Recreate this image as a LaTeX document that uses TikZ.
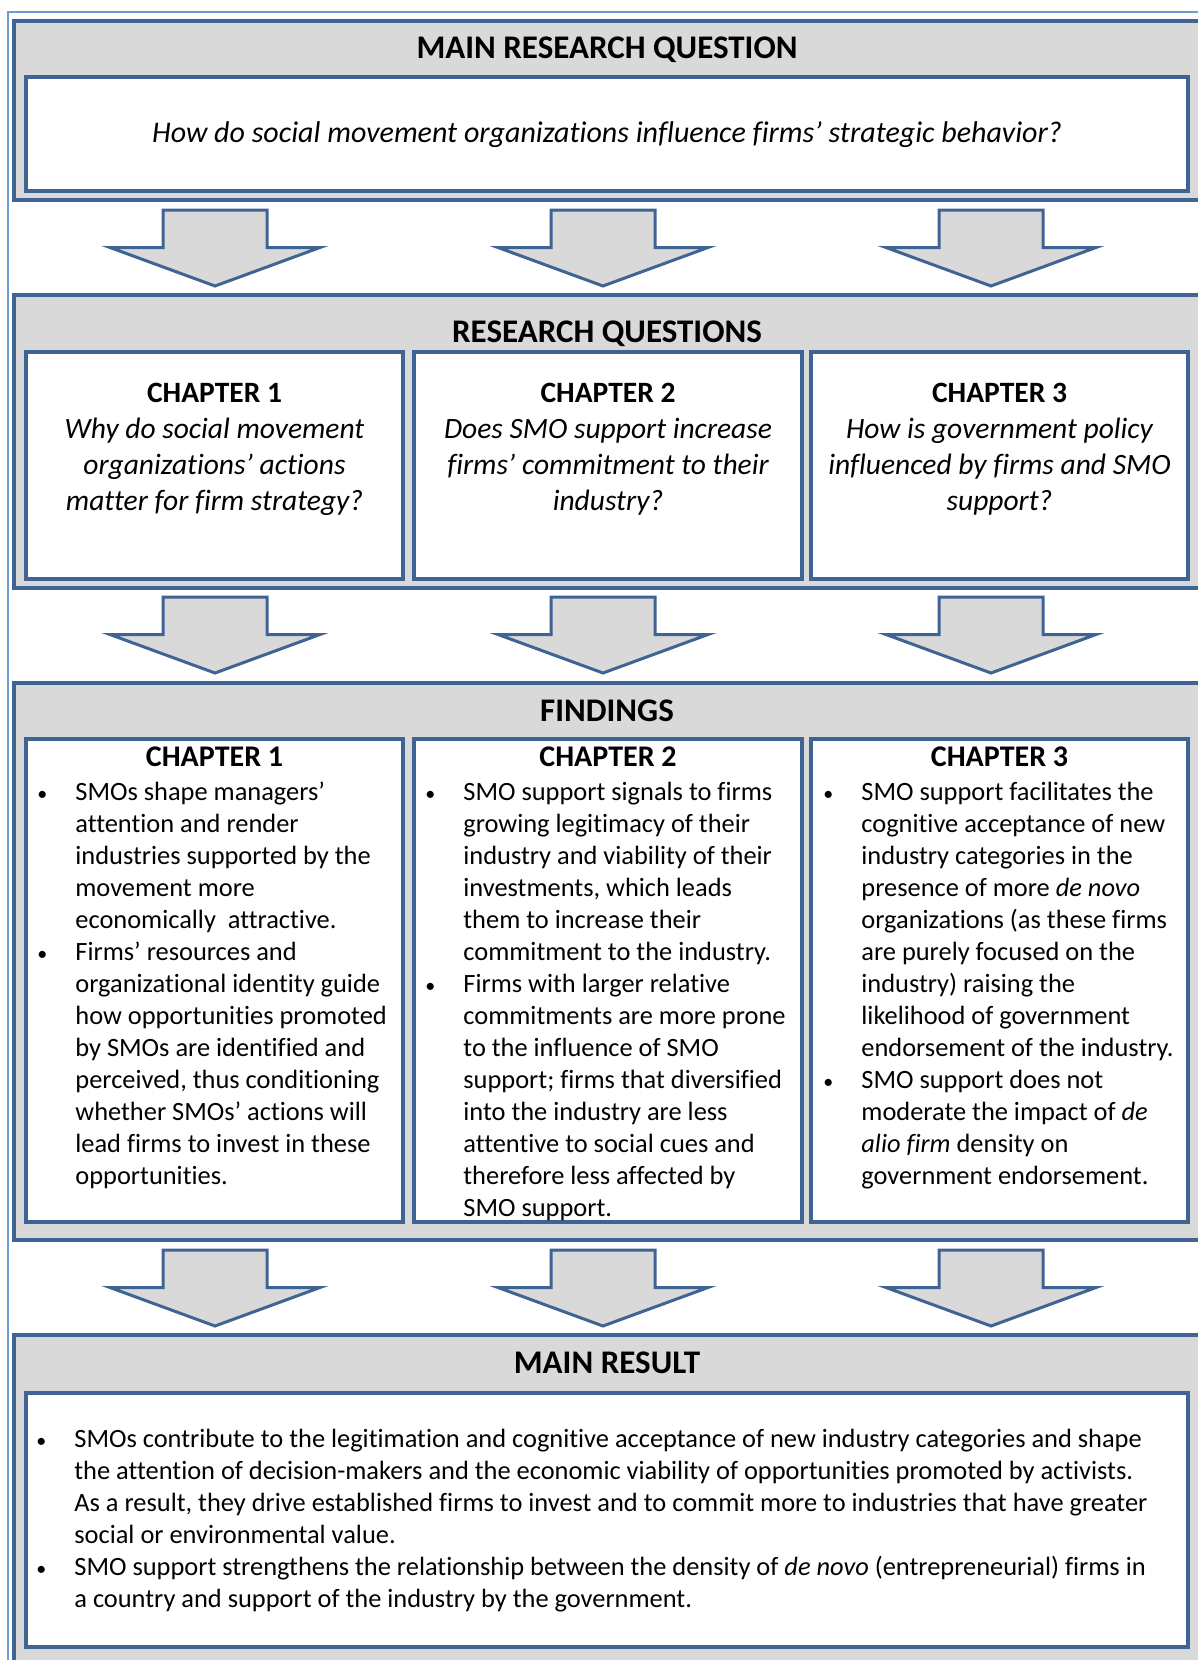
\documentclass[tikz,border=0pt]{standalone}
\usepackage{fontspec}
\setmainfont[Ligatures=NoCommon]{Carlito}
\definecolor{bdr}{HTML}{3F6494}
\definecolor{pgrey}{HTML}{D9D9D9}
\definecolor{lblue}{HTML}{6C9BD6}
\newcommand{\bul}{\llap{{\fontsize{10}{12}\selectfont •}\hspace{14pt}}}
\newcommand{\dnarrow}[2]{\draw[arr] (#1-52,#2) -- (#1+52,#2) -- (#1+52,#2+37.5) -- (#1+105,#2+37.5) -- (#1,#2+76) -- (#1-105,#2+37.5) -- (#1-52,#2+37.5) -- cycle;}
\tikzset{
  panel/.style={draw=bdr, fill=pgrey, line width=1.6pt},
  wbox/.style={draw=bdr, fill=white, line width=1.6pt},
  arr/.style={draw=bdr, fill=pgrey, line width=1.5pt, line join=miter},
  outerline/.style={draw=lblue, line width=0.7pt},
  hd/.style={anchor=base, inner sep=0pt, font=\bfseries\fontsize{16.5}{20}\selectfont},
  chd/.style={anchor=base, inner sep=0pt, font=\bfseries\fontsize{15}{18}\selectfont},
  rq/.style={anchor=base, inner sep=0pt, font=\fontsize{14.75}{18}\selectfont},
  mq/.style={anchor=base, inner sep=0pt, font=\itshape\fontsize{15}{18}\selectfont},
  txt/.style={anchor=base west, inner sep=0pt, font=\fontsize{13.2}{16}\selectfont},
}
\begin{document}
\begin{tikzpicture}[x=0.5pt,y=-0.5pt]
\useasboundingbox (0,0) rectangle (1198,1660);
\clip (0,0) rectangle (1198,1660);
\fill[white] (0,0) rectangle (1198,1660);
% outer thin frame
\draw[outerline] (8,1680) -- (8,12) -- (1220,12);
% panels
\draw[panel] (14,21) rectangle (1210,200);
\draw[panel] (14,295) rectangle (1210,588);
\draw[panel] (14,683) rectangle (1210,1240);
\draw[panel] (14,1335) rectangle (1210,1690);
% white boxes
\draw[wbox] (26,77) rectangle (1188,191);
\draw[wbox] (26,352) rectangle (403,579);
\draw[wbox] (414,352) rectangle (802,579);
\draw[wbox] (811,352) rectangle (1188,579);
\draw[wbox] (26,739) rectangle (403,1222);
\draw[wbox] (414,739) rectangle (802,1222);
\draw[wbox] (811,739) rectangle (1188,1222);
\draw[wbox] (26,1393) rectangle (1188,1647);
% arrows
\foreach \cx in {215,603,991}{
  \dnarrow{\cx}{210}
  \dnarrow{\cx}{597}
  \dnarrow{\cx}{1250}
}
% headings
\node[hd] (mrq) at (607,58) {MAIN RESEARCH QUESTION};
\node[mq] (mrqq) at (607,142) {How do social movement organizations influence firms’ strategic behavior?};
\node[hd] (rqh) at (607,342) {RESEARCH QUESTIONS};
\node[hd] (fh) at (607,721) {FINDINGS};
\node[hd] (mrh) at (607,1373) {MAIN RESULT};
% research questions
\node[rq] (rq1) at (214.5,402) {\begin{tabular}[t]{@{}c@{}}\bfseries CHAPTER 1\\ \itshape Why do social movement\\ \itshape organizations’ actions\\ \itshape matter for firm strategy?\end{tabular}};
\node[rq] (rq2) at (608,402) {\begin{tabular}[t]{@{}c@{}}\bfseries CHAPTER 2\\ \itshape Does SMO support increase\\ \itshape firms’ commitment to their\\ \itshape industry?\end{tabular}};
\node[rq] (rq3) at (999.5,402) {\begin{tabular}[t]{@{}c@{}}\bfseries CHAPTER 3\\ \itshape How is government policy\\ \itshape influenced by firms and SMO\\ \itshape support?\end{tabular}};
% findings
\node[chd] (f1h) at (214.5,766) {CHAPTER 1};
\node[chd] (f2h) at (608,766) {CHAPTER 2};
\node[chd] (f3h) at (999.5,766) {CHAPTER 3};
\node[txt] (f1) at (75,800) {\begin{tabular}[t]{@{}l@{}}\bul SMOs shape managers’\\ attention and render\\ industries supported by the\\ movement more\\ economically\ \ attractive.\\ \bul Firms’ resources and\\ organizational identity guide\\ how opportunities promoted\\ by SMOs are identified and\\ perceived, thus conditioning\\ whether SMOs’ actions will\\ lead firms to invest in these\\ opportunities.\end{tabular}};
\node[txt] (f2) at (463,800) {\begin{tabular}[t]{@{}l@{}}\bul SMO support signals to firms\\ growing legitimacy of their\\ industry and viability of their\\ investments, which leads\\ them to increase their\\ commitment to the industry.\\ \bul Firms with larger relative\\ commitments are more prone\\ to the influence of SMO\\ support; firms that diversified\\ into the industry are less\\ attentive to social cues and\\ therefore less affected by\\ SMO support.\end{tabular}};
\node[txt] (f3) at (861,800) {\begin{tabular}[t]{@{}l@{}}\bul SMO support facilitates the\\ cognitive acceptance of new\\ industry categories in the\\ presence of more \textit{de novo}\\ organizations (as these firms\\ are purely focused on the\\ industry) raising the\\ likelihood of government\\ endorsement of the industry.\\ \bul SMO support does not\\ moderate the impact of \textit{de}\\ \textit{alio firm} density on\\ government endorsement.\end{tabular}};
% main result
\node[txt] (mr) at (74,1447) {\begin{tabular}[t]{@{}l@{}}\bul SMOs contribute to the legitimation and cognitive acceptance of new industry categories and shape\\ the attention of decision-makers and the economic viability of opportunities promoted by activists.\\ As a result, they drive established firms to invest and to commit more to industries that have greater\\ social or environmental value.\\ \bul SMO support strengthens the relationship between the density of \textit{de novo} (entrepreneurial) firms in\\ a country and support of the industry by the government.\end{tabular}};
\end{tikzpicture}
\end{document}
